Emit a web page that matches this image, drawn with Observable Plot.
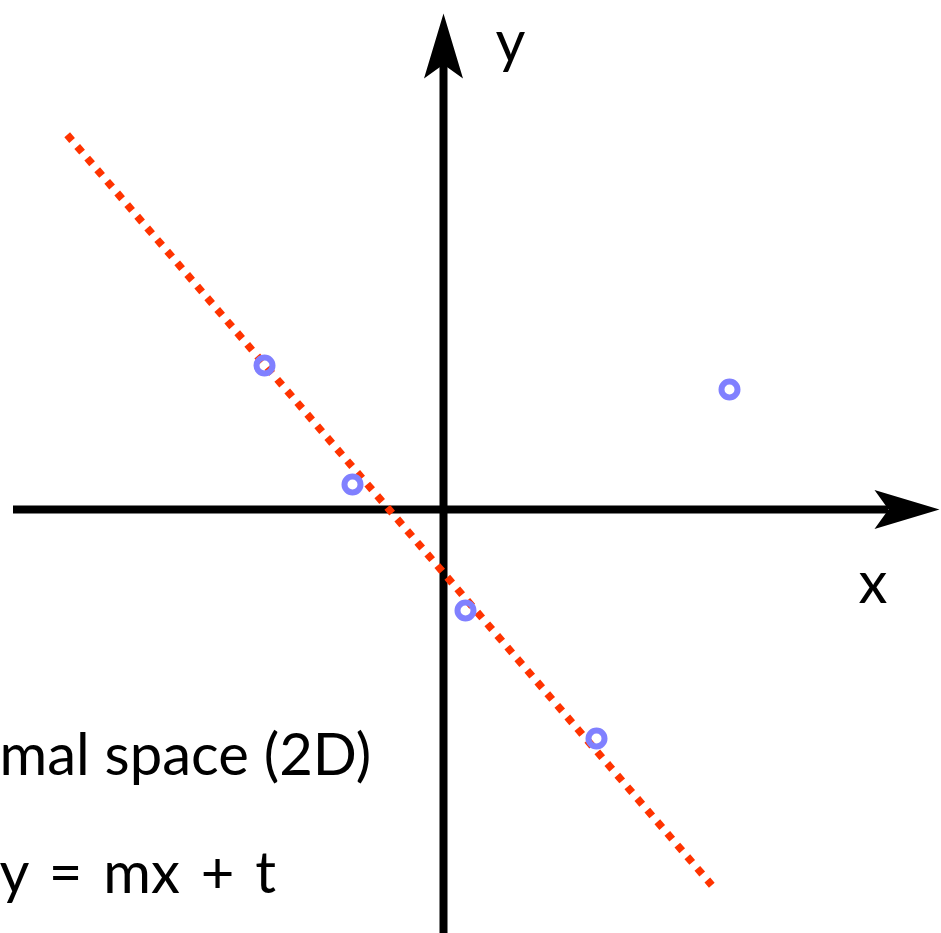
<!DOCTYPE html>
<html>
<head>
<meta charset="utf-8">
<script src="https://cdn.jsdelivr.net/npm/d3@7"></script>
<script src="https://cdn.jsdelivr.net/npm/@observablehq/plot@0.6"></script>
<style>
  html, body { margin: 0; padding: 0; background: #fff; }
  #chart svg { display: block; }
  .eq text { word-spacing: 6px; }
</style>
</head>
<body>
<div id="chart"></div>
<script>
// Data points (units: 1 = 100 px, origin at axes crossing)
const pointX = [-1.79, -0.91, 0.22, 1.53, 2.86];
const pointY = [1.44, 0.25, -1.01, -2.29, 1.20];

// Fitted (dotted) line endpoints
const fitX = [-3.763, 2.683];
const fitY = [3.747, -3.757];

// Axis extents
const xAxisExtent = [-4.30, 4.45];
const yAxisExtent = [-4.24, 4.45];
const arrowTip = 4.96;

// Labels
const axisLabels = [
  {text: "y", x: 0.52, y: 4.48},
  {text: "x", x: 4.15, y: -0.93}
];
const captionLine1 = [{text: "mal space (2D)", x: -4.44, y: -2.65}];
const captionLine2 = [{text: "y = mx + t", x: -4.44, y: -3.83}];

const points = pointX.map((x, i) => ({x, y: pointY[i]}));
const fit = fitX.map((x, i) => ({x, y: fitY[i]}));

const arrowHead = {
  draw(context, size) {
    const s = Math.sqrt(size / Math.PI);
    context.moveTo(0, 0);
    context.lineTo(-65 * s, -19.5 * s);
    context.lineTo(-51 * s, 0);
    context.lineTo(-65 * s, 19.5 * s);
    context.closePath();
  }
};

const textOpts = {x: "x", y: "y", text: "text", fontSize: 58, textAnchor: "start", lineAnchor: "bottom", fill: "#000"};

const chart = Plot.plot({
  width: 941,
  height: 933,
  margin: 0,
  style: {background: "#fff", fontFamily: "Lato, 'Open Sans', sans-serif"},
  x: {domain: [-4.43, 4.98], axis: null},
  y: {domain: [-4.24, 5.09], axis: null},
  marks: [
    Plot.ruleY([0], {x1: xAxisExtent[0], x2: xAxisExtent[1], stroke: "#000", strokeWidth: 8}),
    Plot.ruleX([0], {y1: yAxisExtent[0], y2: yAxisExtent[1], stroke: "#000", strokeWidth: 8}),
    Plot.dot([{x: arrowTip, y: 0}], {x: "x", y: "y", r: 1, symbol: arrowHead, fill: "#000", stroke: "none"}),
    Plot.dot([{x: 0, y: arrowTip}], {x: "x", y: "y", r: 1, symbol: arrowHead, fill: "#000", stroke: "none", rotate: -90}),
    Plot.line(fit, {x: "x", y: "y", stroke: "#ff3300", strokeWidth: 7.5, strokeDasharray: "7.5,7.85", strokeLinecap: "butt"}),
    Plot.dot(points, {x: "x", y: "y", r: 8, stroke: "#8080ff", strokeWidth: 6, fill: "none"}),
    Plot.text(axisLabels, textOpts),
    Plot.text(captionLine1, textOpts),
    Plot.text(captionLine2, {...textOpts, className: "eq"})
  ]
});
document.getElementById("chart").appendChild(chart);
</script>
</body>
</html>
